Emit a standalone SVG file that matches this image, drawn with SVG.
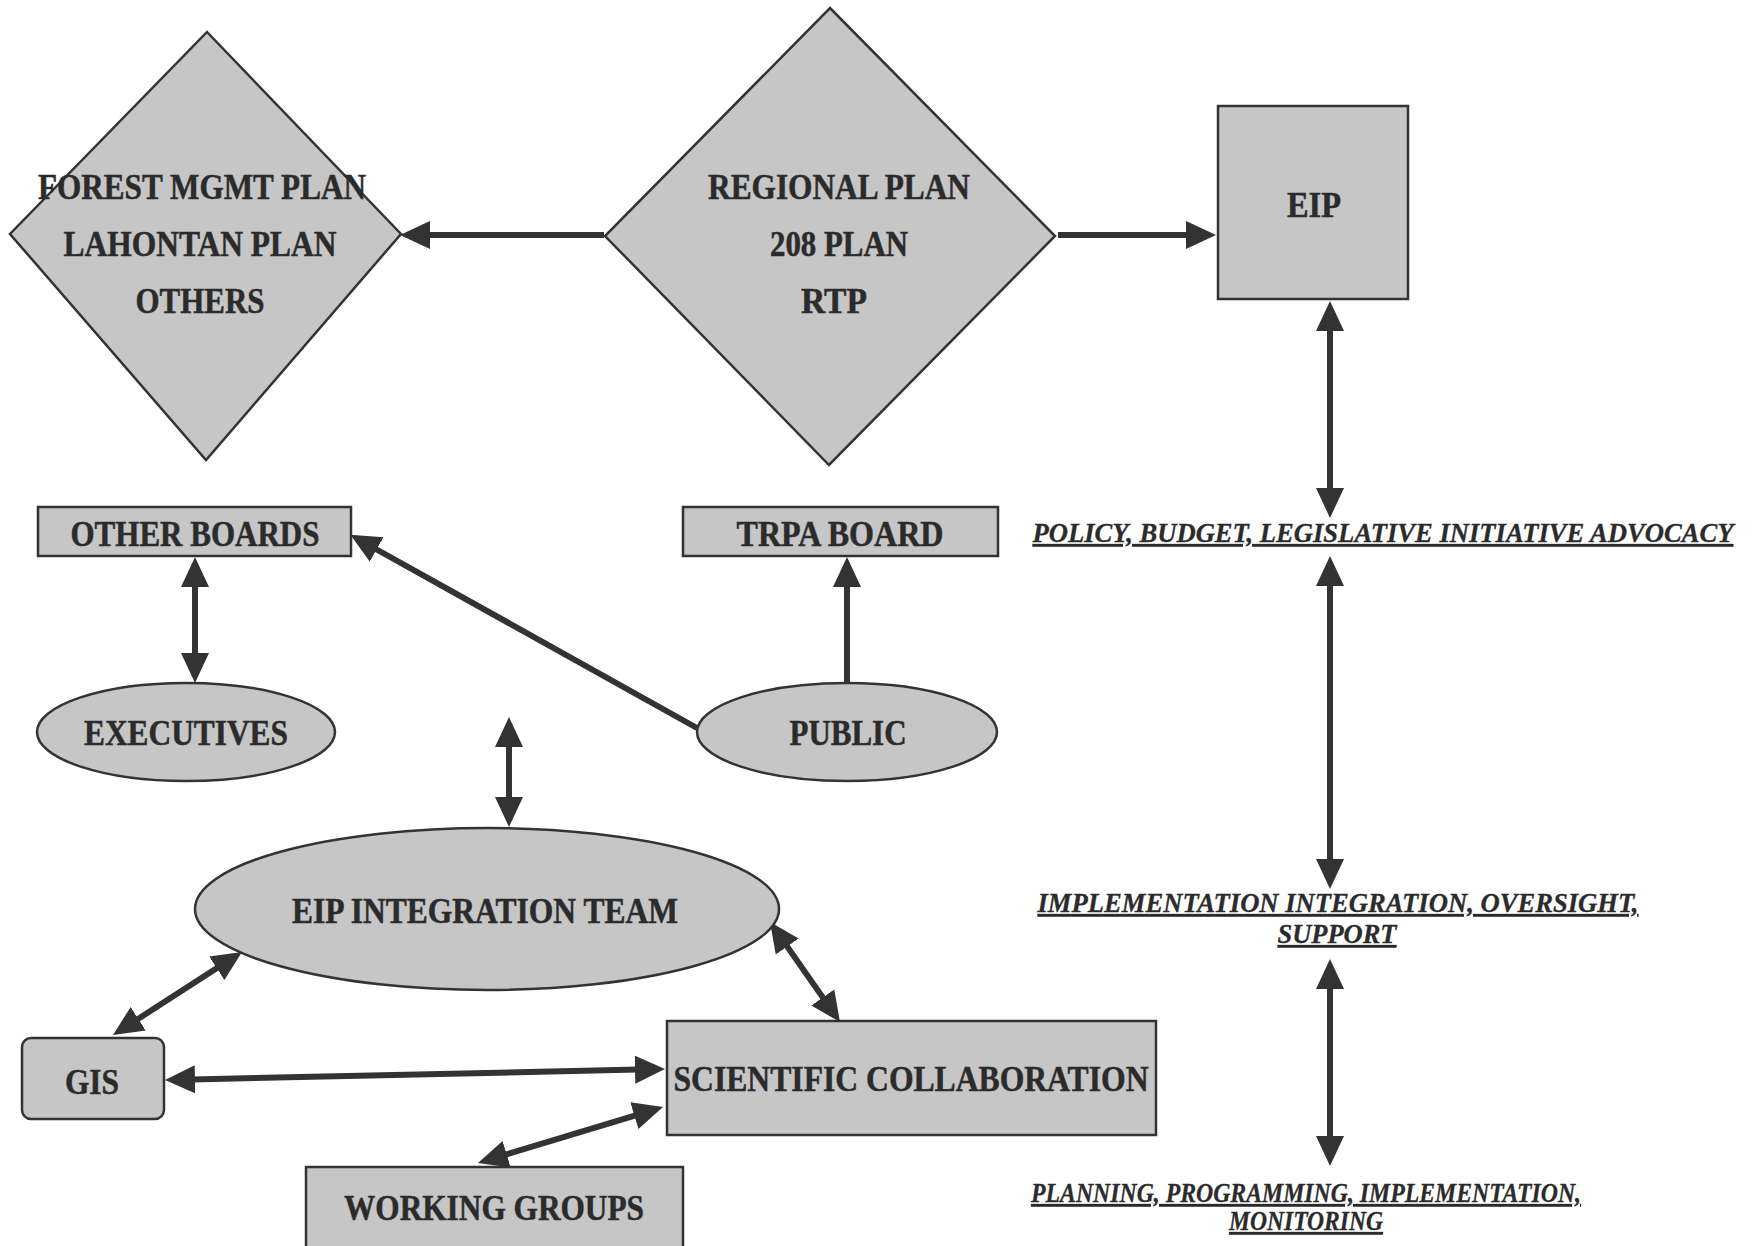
<svg xmlns="http://www.w3.org/2000/svg" width="1752" height="1246" viewBox="0 0 1752 1246">
<style>
  .shape { fill: #c6c6c6; stroke: #333333; stroke-width: 2.5; }
  .lbl { font-family: "Liberation Serif", "Times New Roman", serif; font-weight: bold; font-size: 35px; fill: #2b2b2b; stroke: #2b2b2b; stroke-width: 0.5; text-anchor: middle; }
  .it { font-family: "Liberation Serif", "Times New Roman", serif; font-weight: bold; font-style: italic; font-size: 27px; fill: #2b2b2b; stroke: #2b2b2b; stroke-width: 0.3; text-anchor: middle; text-decoration: underline; }
  .conn { fill: none; stroke: #333333; stroke-width: 6; }
</style>
<defs>
  <marker id="ah" markerUnits="userSpaceOnUse" markerWidth="32" markerHeight="30" refX="3" refY="15" orient="auto-start-reverse">
    <path d="M0,1 L30,15 L0,29 z" fill="#333333"/>
  </marker>
</defs>
<rect width="1752" height="1246" fill="#ffffff"/>

<g id="connectors">
  <path class="conn" d="M604,235 L427,235" marker-end="url(#ah)"/>
  <path class="conn" d="M1058,235 L1189,235" marker-end="url(#ah)"/>
  <path class="conn" d="M1330,328 L1330,491" marker-start="url(#ah)" marker-end="url(#ah)"/>
  <path class="conn" d="M1330,583 L1330,862" marker-start="url(#ah)" marker-end="url(#ah)"/>
  <path class="conn" d="M1330,986 L1330,1139" marker-start="url(#ah)" marker-end="url(#ah)"/>
  <path class="conn" d="M195,584 L195,656" marker-start="url(#ah)" marker-end="url(#ah)"/>
  <path class="conn" d="M847,683 L847,584" marker-end="url(#ah)"/>
  <path class="conn" d="M697,728 L374,548" marker-end="url(#ah)"/>
  <path class="conn" d="M509,744 L509,800" marker-start="url(#ah)" marker-end="url(#ah)"/>
  <path class="conn" d="M219.3,966.6 L135.7,1020.4" marker-start="url(#ah)" marker-end="url(#ah)"/>
  <path class="conn" d="M192,1079.4 L638,1069.6" marker-start="url(#ah)" marker-end="url(#ah)"/>
  <path class="conn" d="M785.5,944.1 L824.5,999.9" marker-start="url(#ah)" marker-end="url(#ah)"/>
  <path class="conn" d="M503.8,1155.2 L637.2,1114.8" marker-start="url(#ah)" marker-end="url(#ah)"/>
</g>

<g id="forest">
  <polygon class="shape" points="207,32 401,234 206,460 10,234"/>
  <text class="lbl" x="202" y="199" textLength="328" lengthAdjust="spacingAndGlyphs">FOREST MGMT PLAN</text>
  <text class="lbl" x="200" y="256" textLength="273" lengthAdjust="spacingAndGlyphs">LAHONTAN PLAN</text>
  <text class="lbl" x="200" y="313" textLength="129" lengthAdjust="spacingAndGlyphs">OTHERS</text>
</g>

<g id="regional">
  <polygon class="shape" points="830,8 1055,236 829,465 605,236"/>
  <text class="lbl" x="839" y="199" textLength="262" lengthAdjust="spacingAndGlyphs">REGIONAL PLAN</text>
  <text class="lbl" x="839" y="256" textLength="138" lengthAdjust="spacingAndGlyphs">208 PLAN</text>
  <text class="lbl" x="834" y="313" textLength="66" lengthAdjust="spacingAndGlyphs">RTP</text>
</g>

<g id="eip">
  <rect class="shape" x="1218" y="106" width="190" height="193"/>
  <text class="lbl" x="1314" y="217" textLength="54" lengthAdjust="spacingAndGlyphs">EIP</text>
</g>

<g id="other-boards">
  <rect class="shape" x="38" y="507" width="313" height="49"/>
  <text class="lbl" x="195" y="546" textLength="249" lengthAdjust="spacingAndGlyphs">OTHER BOARDS</text>
</g>

<g id="trpa-board">
  <rect class="shape" x="683" y="507" width="315" height="49"/>
  <text class="lbl" x="840" y="546" textLength="207" lengthAdjust="spacingAndGlyphs">TRPA BOARD</text>
</g>

<g id="executives">
  <ellipse class="shape" cx="186" cy="732" rx="149" ry="49"/>
  <text class="lbl" x="186" y="745" textLength="204" lengthAdjust="spacingAndGlyphs">EXECUTIVES</text>
</g>

<g id="public">
  <ellipse class="shape" cx="847" cy="732" rx="150" ry="49"/>
  <text class="lbl" x="848" y="745" textLength="117" lengthAdjust="spacingAndGlyphs">PUBLIC</text>
</g>

<g id="eip-integration-team">
  <ellipse class="shape" cx="487" cy="909" rx="292" ry="81"/>
  <text class="lbl" x="485" y="923" textLength="386" lengthAdjust="spacingAndGlyphs">EIP INTEGRATION TEAM</text>
</g>

<g id="gis">
  <rect class="shape" x="22" y="1038" width="142" height="81" rx="9"/>
  <text class="lbl" x="92" y="1094" textLength="54" lengthAdjust="spacingAndGlyphs">GIS</text>
</g>

<g id="scientific-collaboration">
  <rect class="shape" x="667" y="1021" width="489" height="114"/>
  <text class="lbl" x="911" y="1091" textLength="475" lengthAdjust="spacingAndGlyphs">SCIENTIFIC COLLABORATION</text>
</g>

<g id="working-groups">
  <rect class="shape" x="306" y="1167" width="377" height="100"/>
  <text class="lbl" x="494" y="1220" textLength="300" lengthAdjust="spacingAndGlyphs">WORKING GROUPS</text>
</g>

<g id="policy">
  <text class="it" x="1383" y="542" textLength="701" lengthAdjust="spacingAndGlyphs">POLICY, BUDGET, LEGISLATIVE INITIATIVE ADVOCACY</text>
</g>

<g id="implementation">
  <text class="it" x="1338" y="912" textLength="601" lengthAdjust="spacingAndGlyphs">IMPLEMENTATION INTEGRATION, OVERSIGHT,</text>
  <text class="it" x="1337" y="943" textLength="119" lengthAdjust="spacingAndGlyphs">SUPPORT</text>
</g>

<g id="planning">
  <text class="it" x="1306" y="1202" textLength="550" lengthAdjust="spacingAndGlyphs">PLANNING, PROGRAMMING, IMPLEMENTATION,</text>
  <text class="it" x="1306" y="1230" textLength="154" lengthAdjust="spacingAndGlyphs">MONITORING</text>
</g>
</svg>
